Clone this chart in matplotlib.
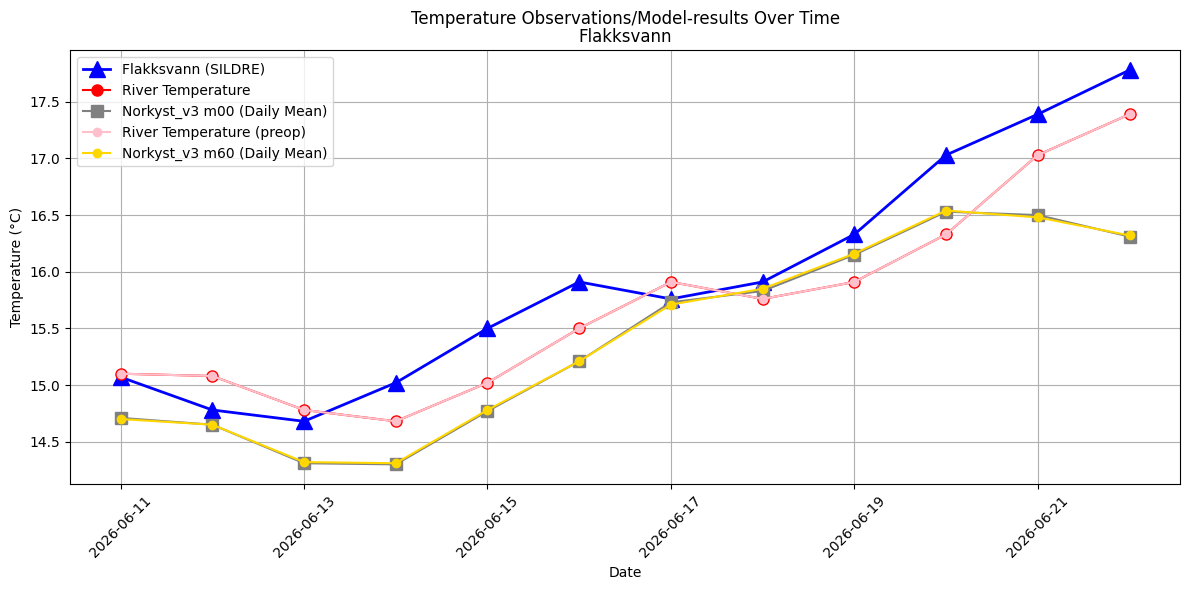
import matplotlib
matplotlib.use("Agg")
import matplotlib.pyplot as plt
import matplotlib.dates as mdates
import pandas as pd

dates = pd.date_range("2026-06-11", "2026-06-22", freq="D")

sildre = [15.07, 14.78, 14.68, 15.02, 15.50, 15.91, 15.76, 15.91, 16.33, 17.03, 17.39, 17.78]
river = [15.10, 15.08, 14.78, 14.68, 15.02, 15.50, 15.91, 15.76, 15.91, 16.33, 17.03, 17.39]
river_preop = [15.10, 15.08, 14.78, 14.68, 15.02, 15.50, 15.91, 15.76, 15.91, 16.33, 17.03, 17.39]
m00 = [14.71, 14.65, 14.31, 14.30, 14.77, 15.21, 15.73, 15.83, 16.15, 16.53, 16.50, 16.31]
m60 = [14.70, 14.65, 14.32, 14.31, 14.78, 15.21, 15.71, 15.85, 16.16, 16.54, 16.48, 16.32]

fig, ax = plt.subplots(figsize=(12, 6), dpi=100)
ax.plot(dates, sildre, marker='^', color='blue', linewidth=2, markersize=12, label='Flakksvann (SILDRE)')
ax.plot(dates, river, marker='o', color='red', markersize=8, label='River Temperature')
ax.plot(dates, m00, marker='s', color='grey', markersize=9, label='Norkyst_v3 m00 (Daily Mean)')
ax.plot(dates, river_preop, marker='o', color='pink', markersize=6, label='River Temperature (preop)')
ax.plot(dates, m60, marker='o', color='gold', markersize=6, label='Norkyst_v3 m60 (Daily Mean)')

ax.set_title('Temperature Observations/Model-results Over Time\nFlakksvann', linespacing=1.0)
ax.set_xlabel('Date')
ax.set_ylabel('Temperature (°C)')
ax.set_xticks(dates[::2])
ax.xaxis.set_major_formatter(mdates.DateFormatter('%Y-%m-%d'))
plt.xticks(rotation=45)
ax.grid(True)
ax.legend(loc='upper left')
plt.tight_layout()
plt.savefig('out.png', bbox_inches='tight')
